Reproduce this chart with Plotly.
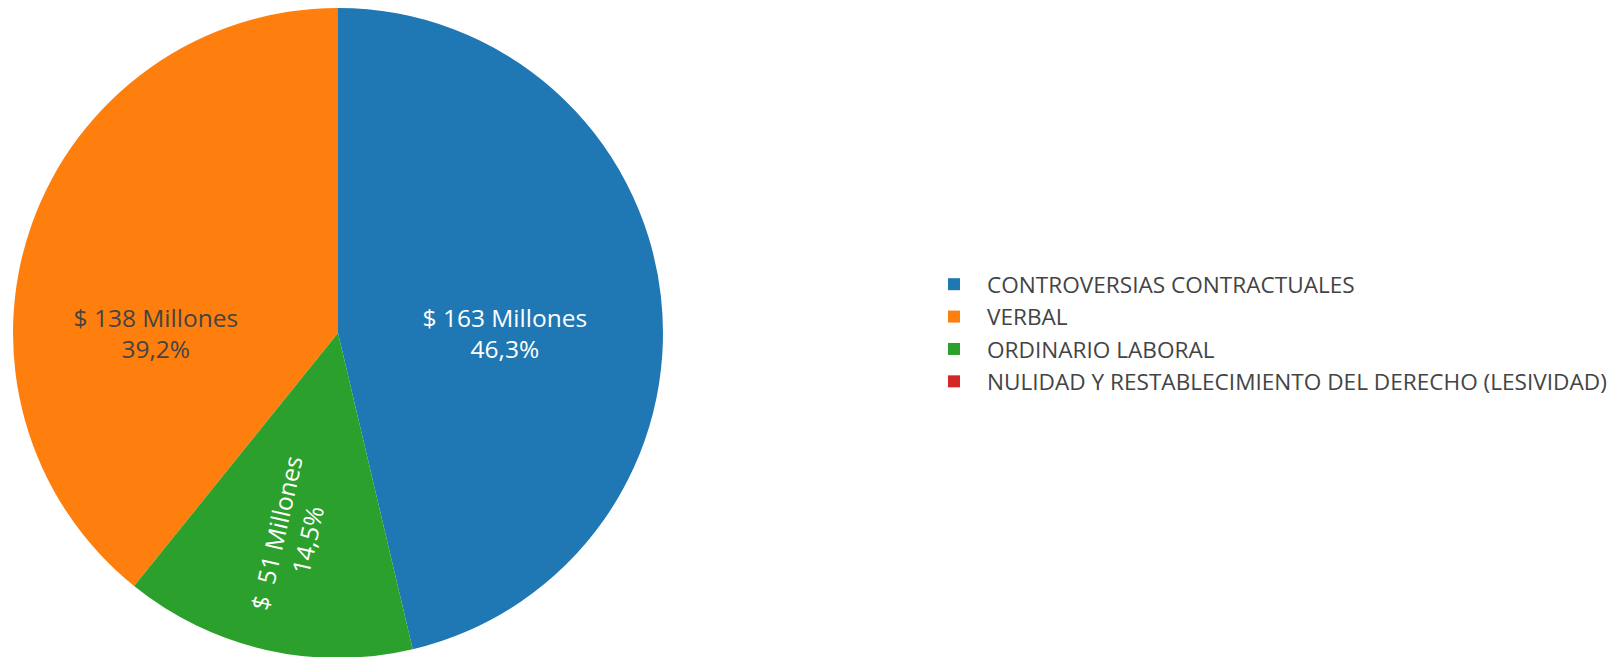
import plotly.graph_objects as go

labels = ["CONTROVERSIAS CONTRACTUALES", "VERBAL", "ORDINARIO LABORAL",
          "NULIDAD Y RESTABLECIMIENTO DEL DERECHO (LESIVIDAD)"]
values = [163, 138, 51, 0]
text_labels = ["$ 163 Millones", "$ 138 Millones", "$  51 Millones", ""]
colors = ["#1f77b4", "#ff7f0e", "#2ca02c", "#d62728"]

templates = ["%{text}<br>%{percent:.1%}" if t else "" for t in text_labels]

L, T, B = 5, 0, 7
W_PLOT = 1624 - L
fig = go.Figure(go.Pie(
    labels=labels,
    values=values,
    text=text_labels,
    texttemplate=templates,
    textposition="inside",
    insidetextorientation="radial",
    marker=dict(colors=colors),
    textfont=dict(size=24.5),
    domain=dict(x=[0, 650 / W_PLOT], y=[0, 1]),
    sort=True,
    direction="counterclockwise",
    hoverinfo="label+value+percent",
))

fig.update_layout(
    width=1624, height=657,
    separators=",.",
    margin=dict(l=L, r=0, t=T, b=B),
    font=dict(family="Open Sans, verdana, arial, sans-serif", color="#444"),
    legend=dict(x=(913 - L) / W_PLOT, xanchor="left", y=0.5, yanchor="middle",
                itemwidth=56, font=dict(size=22.6)),
    paper_bgcolor="white",
)

fig.write_html("out.html")
